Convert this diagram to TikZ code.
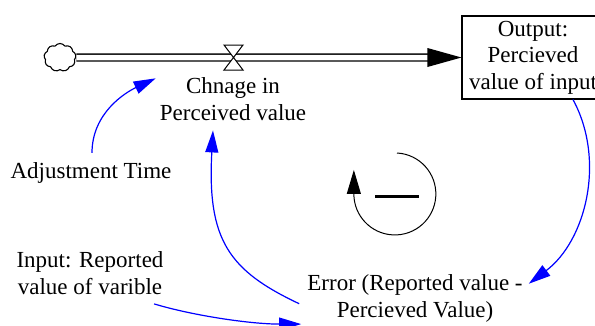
\documentclass[tikz,border=0pt]{standalone}
\usepackage{fontspec}
\setmainfont{Liberation Serif}
\usetikzlibrary{arrows.meta,shapes.symbols}
\definecolor{linkblue}{RGB}{0,0,255}
\begin{document}
\begin{tikzpicture}[x=1pt,y=1pt,
  lbl/.style={font=\fontsize{23}{26.5}\selectfont, inner sep=2pt, align=center},
  link/.style={draw=linkblue, line width=1.2pt, -{Triangle[length=22pt,width=13pt]}, fill=none},
  pipe/.style={draw=black, line width=1.3pt, double=white, double distance=5.5pt},
  stockbox/.style={draw, line width=1.1pt, minimum width=142pt, minimum height=83pt, inner sep=0pt}
]
\useasboundingbox (0,0) rectangle (595,325);

% source cloud
\node[cloud, draw, line width=1.1pt, cloud puffs=9, cloud puff arc=110, aspect=1.1,
      minimum width=32pt, minimum height=28pt, inner sep=0pt] (src) at (60,267.5) {};

% stock
\node[stockbox, lbl] (out) at (533,267.5) {Output:\\Percieved\\value of input};

% pipe with arrow head
\draw[pipe] (src.east) -- ([xshift=-33pt]out.west);
\fill ([xshift=-34pt,yshift=9.5pt]out.west) -- (out.west) -- ([xshift=-34pt,yshift=-9.5pt]out.west) -- cycle;

% valve
\coordinate (valve) at (233.5,267.5);
\draw[line width=1pt, fill=white] ([shift={(-9.5pt,12.5pt)}]valve) -- ([shift={(9.5pt,12.5pt)}]valve)
   -- ([shift={(-9.5pt,-12.5pt)}]valve) -- ([shift={(9.5pt,-12.5pt)}]valve) -- cycle;

% labels (anchor=base is the baseline of the last line)
\node[lbl, anchor=base] (chg) at (233,205) {Chnage in\\Perceived value};
\node[lbl, anchor=base] (adj) at (91,147) {Adjustment Time};
\node[lbl, anchor=base] (inp) at (90,31) {Input: Reported\\value of varible};
\node[lbl, anchor=base] (err) at (415,8) {Error (Reported value -\\Percieved Value)};

% links
\draw[link] ([shift={(1pt,7pt)}]adj.north) .. controls +(0,40) and +(-30,-14) .. ([shift={(-2pt,-3pt)}]chg.north west);
\draw[link] ([shift={(-6pt,-5.5pt)}]err.west) .. controls +(-70,33) and +(-6,-110) .. ([shift={(-20pt,-8pt)}]chg.south);
\draw[link] ([shift={(-11.5pt,-7.5pt)}]inp.south east) .. controls +(40,-12) and +(-50,0) .. ([shift={(-4pt,0pt)}]err.south west);
\draw[link] ([xshift=40pt]out.south) .. controls +(33,-61) and +(57,43) .. ([shift={(4pt,14.5pt)}]err.east);

% loop symbol
\draw[line width=1pt, -{Triangle[length=24pt,width=14pt]}] (397,172) arc[start angle=87, end angle=-180, radius=41] -- ++(0,24);
\draw[line width=3pt] (375,129) -- (419,129);
\end{tikzpicture}
\end{document}
